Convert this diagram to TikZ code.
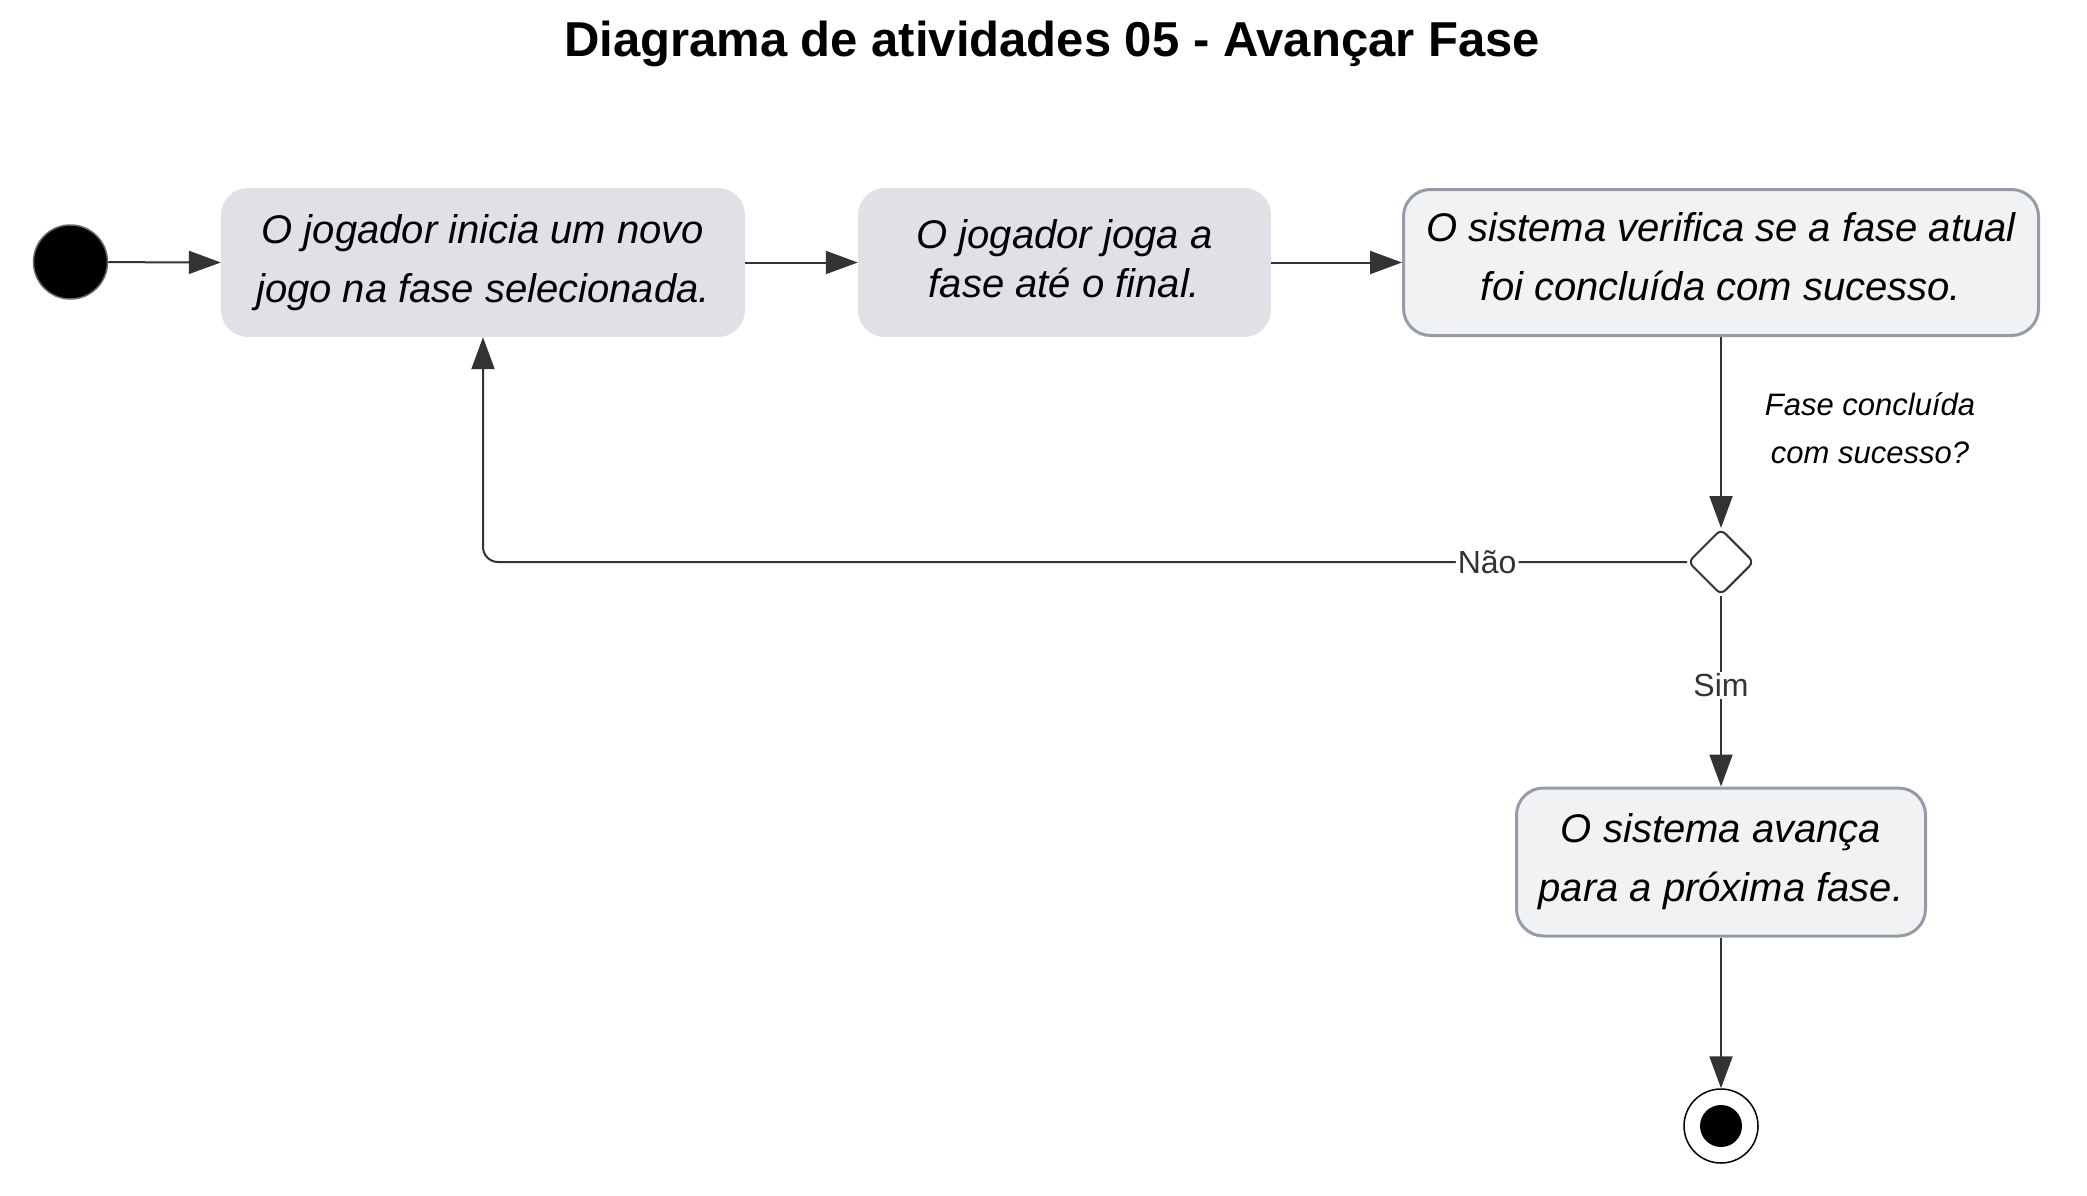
\documentclass[tikz,border=0pt]{standalone}
\usepackage{fontspec}
\setmainfont{Liberation Sans}
\usetikzlibrary{arrows.meta,shapes.geometric,positioning}
\definecolor{boxA}{HTML}{DFE1E6}
\definecolor{boxB}{HTML}{F1F2F4}
\definecolor{boxline}{HTML}{959CA7}
\definecolor{conncol}{HTML}{333333}
\tikzset{
  actA/.style={rectangle, rounded corners=27pt, fill=boxA, inner sep=0pt, align=center, font=\fontsize{40}{59}\selectfont\itshape},
  actB/.style={rectangle, rounded corners=27pt, fill=boxB, draw=boxline, line width=3pt, inner sep=0pt, align=center, font=\fontsize{40}{59}\selectfont\itshape},
  conn/.style={draw=conncol, line width=2pt, -{Triangle[length=32pt,width=23pt]}},
  lbl/.style={fill=white, text=conncol, inner sep=2pt, font=\fontsize{32}{38}\selectfont},
}
\begin{document}
\begin{tikzpicture}[x=1pt,y=-1pt]
\useasboundingbox (0,0) rectangle (2087,1196);
\node[font=\fontsize{49}{58}\selectfont\bfseries] (title) at (1052,44) {Diagrama de atividades 05 - Avançar Fase};

\node[circle, fill=black, draw=black!60, line width=1.5pt, minimum size=74pt, inner sep=0pt] (start) at (70.5,262) {};

\node[actA, minimum width=524pt, minimum height=149pt] (b1) at (483,262.5) {O jogador inicia um novo\\jogo na fase selecionada.};
\node[actA, minimum width=413pt, minimum height=149pt, font=\fontsize{40}{49}\selectfont\itshape, text depth=8pt] (b2) at (1064.5,262.5) {O jogador joga a\\fase até o final.};
\node[actB, minimum width=635pt, minimum height=146pt, text depth=11pt] (b3) at (1721,262.5) {O sistema verifica se a fase atual\\foi concluída com sucesso.};
\node[diamond, draw=conncol, line width=2pt, fill=white, minimum width=66pt, minimum height=66pt, inner sep=0pt, rounded corners=6pt] (dec) at (1721,562) {};
\node[actB, minimum width=409pt, minimum height=148pt] (b4) at (1721,862) {O sistema avança\\para a próxima fase.};

\node[circle, draw=black, line width=1.5pt, fill=white, minimum size=74pt, inner sep=0pt] (endo) at (1721,1126) {};
\node[circle, fill=black, minimum size=42pt, inner sep=0pt] (endi) at (endo.center) {};

\node[align=center, font=\fontsize{31}{48}\selectfont\itshape] (q) at (1870,428) {Fase concluída\\com sucesso?};

\draw[conn] (start) -- (b1.west);
\draw[conn] (b1.east) -- (b2.west);
\draw[conn] (b2.east) -- (b3.west);
\draw[conn] (b3.south) -- (dec.north);
\draw[conn, rounded corners=15pt] (dec.west) -- node[lbl, pos=0.166] {Não} (b1.south |- dec.west) -- (b1.south);
\draw[conn] (dec.south) -- node[lbl, pos=0.47] {Sim} (b4.north);
\draw[conn] (b4.south) -- (endo.north);
\end{tikzpicture}
\end{document}
